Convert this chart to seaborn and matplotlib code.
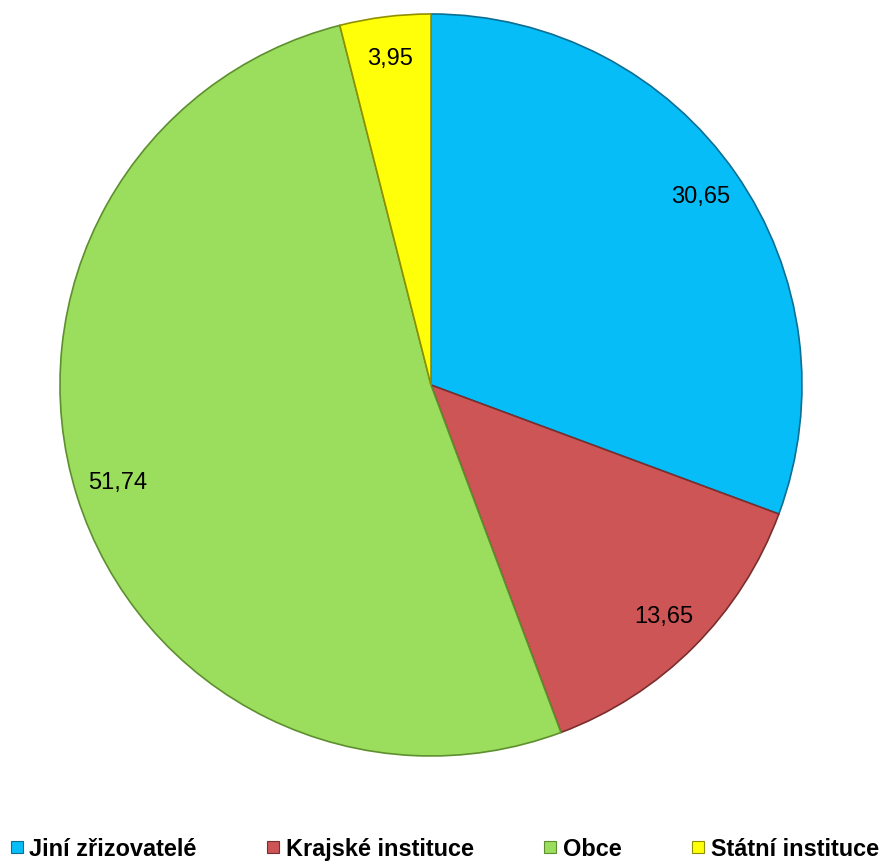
import matplotlib
matplotlib.use('Agg')
import matplotlib.pyplot as plt
from matplotlib.lines import Line2D
import seaborn as sns

# data
categories = ['Jiní zřizovatelé', 'Krajské instituce', 'Obce', 'Státní instituce']
values = [30.65, 13.65, 51.74, 3.95]
colors = ['#06BDF8', '#CD5556', '#9BDD5C', '#FFFF0A']
edge_colors = ['#0A6F93', '#7A2E2E', '#5E8F2E', '#8F8F00']

sns.set_theme(style='white')
plt.rcParams['font.family'] = ['Liberation Sans', 'DejaVu Sans']
plt.rcParams['text.color'] = 'black'

fig = plt.figure(figsize=(8.9, 8.63), dpi=100)
ax = fig.add_axes([0.0674, 0.124, 0.8337, 0.8598])

labels_iter = iter(values)
wedges, texts, autotexts = ax.pie(
    values,
    colors=sns.color_palette(colors),
    startangle=90,
    counterclock=False,
    autopct=lambda p: f'{next(labels_iter):.2f}'.replace('.', ','),
    pctdistance=0.885,
    wedgeprops=dict(linewidth=1.2),
    textprops=dict(fontsize=17, color='black'),
)
for w, ec in zip(wedges, edge_colors):
    w.set_edgecolor(ec)

ax.set_xlim(-1.0, 1.0)
ax.set_ylim(-1.0, 1.0)
ax.set_aspect('equal')
ax.axis('off')

# legend
handles = [Line2D([0], [0], marker='s', linestyle='', markersize=9,
                  markerfacecolor=c, markeredgecolor=ec, markeredgewidth=0.8)
           for c, ec in zip(colors, edge_colors)]
leg = fig.legend(handles, categories, loc='center left', bbox_to_anchor=(0.012, 0.016),
                 ncol=4, frameon=False, handlelength=0.5, handletextpad=0.3,
                 columnspacing=3.0, borderpad=0, borderaxespad=0,
                 prop=dict(weight='bold', size=16.9))
for t in leg.get_texts():
    t.set_color('black')

fig.savefig('out.png', dpi=100)
